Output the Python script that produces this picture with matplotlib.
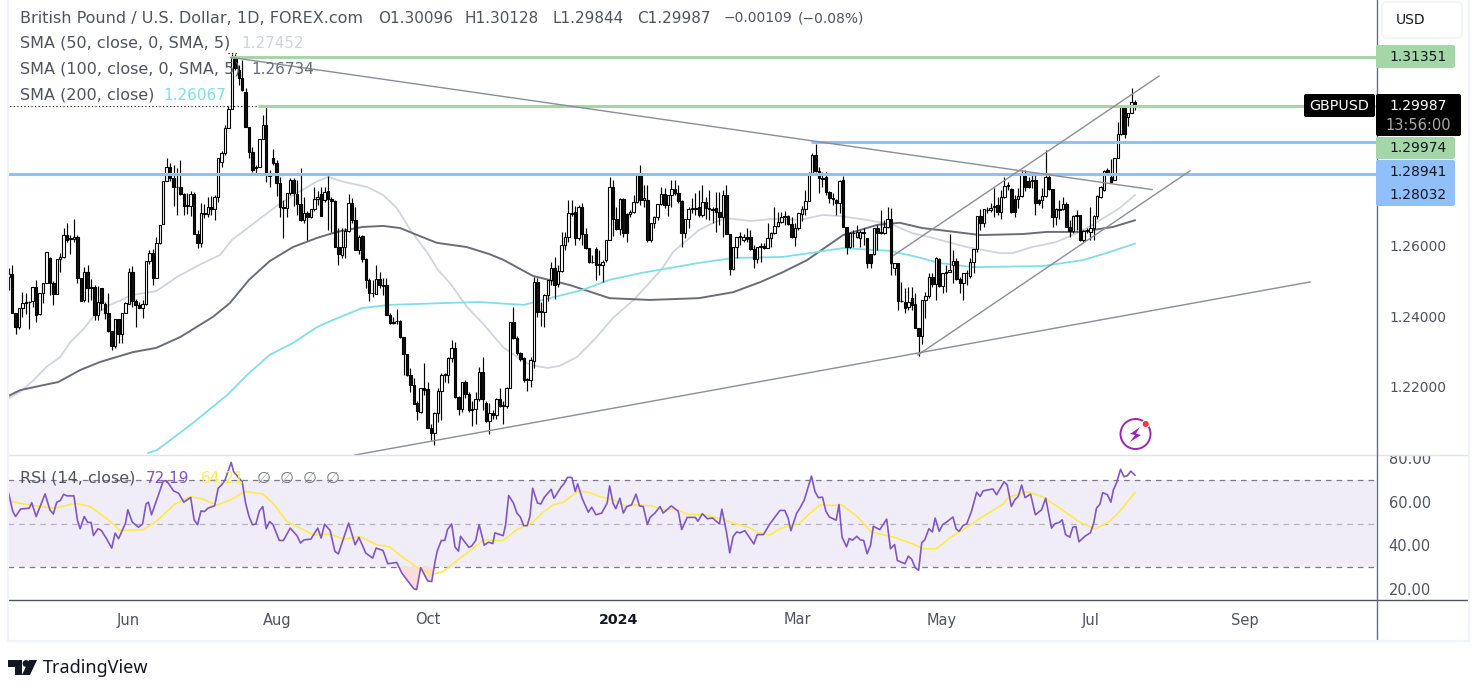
import numpy as np
import matplotlib
matplotlib.use("Agg")
import matplotlib.pyplot as plt
from matplotlib.patches import Circle, FancyBboxPatch, Polygon, Rectangle

plt.rcParams["font.family"] = ["DejaVu Sans"]

# daily candles
opens = [
    1.2513, 1.2521, 1.2411, 1.2371, 1.2423, 1.2437, 1.2440, 1.2444, 1.2483, 1.2407,
    1.2466, 1.2496, 1.2565, 1.2494, 1.2463, 1.2562, 1.2570, 1.2630, 1.2622, 1.2619,
    1.2625, 1.2508, 1.2447, 1.2527, 1.2482, 1.2485, 1.2404, 1.2480, 1.2435, 1.2411,
    1.2360, 1.2316, 1.2392, 1.2350, 1.2411, 1.2436, 1.2525, 1.2445, 1.2432, 1.2424,
    1.2436, 1.2558, 1.2579, 1.2508, 1.2609, 1.2662, 1.2783, 1.2823, 1.2792, 1.2768,
    1.2768, 1.2747, 1.2716, 1.2714, 1.2747, 1.2634, 1.2609, 1.2695, 1.2690, 1.2712,
    1.2704, 1.2740, 1.2839, 1.2864, 1.2935, 1.2989, 1.3135, 1.3099, 1.3077, 1.3037,
    1.2938, 1.2867, 1.2821, 1.2824, 1.2904, 1.2943, 1.2807, 1.2850, 1.2835, 1.2779,
    1.2711, 1.2709, 1.2749, 1.2787, 1.2747, 1.2719, 1.2674, 1.2693, 1.2683, 1.2704,
    1.2733, 1.2747, 1.2730, 1.2756, 1.2733, 1.2729, 1.2598, 1.2574, 1.2598, 1.2643,
    1.2721, 1.2674, 1.2589, 1.2628, 1.2562, 1.2503, 1.2468, 1.2463, 1.2505, 1.2489,
    1.2489, 1.2404, 1.2383, 1.2386, 1.2388, 1.2341, 1.2294, 1.2234, 1.2205, 1.2154,
    1.2129, 1.2197, 1.2194, 1.2084, 1.2069, 1.2126, 1.2189, 1.2234, 1.2234, 1.2282,
    1.2311, 1.2172, 1.2138, 1.2214, 1.2180, 1.2135, 1.2138, 1.2166, 1.2243, 1.2155,
    1.2104, 1.2125, 1.2120, 1.2166, 1.2146, 1.2146, 1.2197, 1.2384, 1.2339, 1.2296,
    1.2282, 1.2220, 1.2220, 1.2275, 1.2498, 1.2413, 1.2413, 1.2461, 1.2504, 1.2538,
    1.2492, 1.2529, 1.2603, 1.2626, 1.2693, 1.2697, 1.2622, 1.2712, 1.2634, 1.2593,
    1.2556, 1.2592, 1.2550, 1.2547, 1.2560, 1.2617, 1.2766, 1.2678, 1.2647, 1.2732,
    1.2690, 1.2690, 1.2697, 1.2726, 1.2801, 1.2730, 1.2730, 1.2617, 1.2664, 1.2681,
    1.2719, 1.2747, 1.2716, 1.2745, 1.2761, 1.2749, 1.2729, 1.2636, 1.2676, 1.2704,
    1.2707, 1.2710, 1.2687, 1.2724, 1.2707, 1.2704, 1.2707, 1.2697, 1.2683, 1.2745,
    1.2634, 1.2534, 1.2596, 1.2625, 1.2617, 1.2626, 1.2626, 1.2591, 1.2562, 1.2598,
    1.2601, 1.2594, 1.2622, 1.2636, 1.2657, 1.2669, 1.2683, 1.2685, 1.2661, 1.2625,
    1.2650, 1.2691, 1.2704, 1.2729, 1.2808, 1.2858, 1.2814, 1.2792, 1.2797, 1.2754,
    1.2735, 1.2730, 1.2721, 1.2787, 1.2655, 1.2598, 1.2636, 1.2626, 1.2622, 1.2641,
    1.2622, 1.2577, 1.2577, 1.2650, 1.2636, 1.2636, 1.2653, 1.2676, 1.2537, 1.2551,
    1.2445, 1.2442, 1.2427, 1.2452, 1.2436, 1.2366, 1.2346, 1.2447, 1.2459, 1.2513,
    1.2491, 1.2563, 1.2487, 1.2524, 1.2527, 1.2546, 1.2558, 1.2506, 1.2494, 1.2524,
    1.2515, 1.2555, 1.2591, 1.2685, 1.2666, 1.2702, 1.2701, 1.2710, 1.2716, 1.2697,
    1.2738, 1.2770, 1.2762, 1.2732, 1.2732, 1.2741, 1.2806, 1.2785, 1.2785, 1.2787,
    1.2730, 1.2730, 1.2741, 1.2797, 1.2761, 1.2683, 1.2704, 1.2704, 1.2718, 1.2655,
    1.2643, 1.2685, 1.2687, 1.2617, 1.2643, 1.2641, 1.2650, 1.2685, 1.2739, 1.2759,
    1.2815, 1.2796, 1.2787, 1.2850, 1.2918, 1.2994, 1.2966, 1.2977, 1.30096,
]
highs = [
    1.2537, 1.2546, 1.2411, 1.2423, 1.2470, 1.2466, 1.2443, 1.2483, 1.2504, 1.2466,
    1.2496, 1.2582, 1.2570, 1.2500, 1.2562, 1.2579, 1.2650, 1.2666, 1.2630, 1.2678,
    1.2630, 1.2510, 1.2541, 1.2546, 1.2505, 1.2490, 1.2487, 1.2480, 1.2442, 1.2466,
    1.2360, 1.2392, 1.2392, 1.2411, 1.2442, 1.2537, 1.2543, 1.2450, 1.2440, 1.2447,
    1.2558, 1.2589, 1.2592, 1.2625, 1.2660, 1.2783, 1.2849, 1.2836, 1.2830, 1.2820,
    1.2844, 1.2750, 1.2750, 1.2757, 1.2754, 1.2645, 1.2723, 1.2720, 1.2740, 1.2742,
    1.2745, 1.2849, 1.2870, 1.2943, 1.2997, 1.3145, 1.3145, 1.3113, 1.3128, 1.3048,
    1.2938, 1.2880, 1.2830, 1.2904, 1.2972, 1.2994, 1.2815, 1.2875, 1.2844, 1.2796,
    1.2730, 1.2749, 1.2792, 1.2792, 1.2787, 1.2820, 1.2740, 1.2700, 1.2704, 1.2768,
    1.2755, 1.2768, 1.2768, 1.2799, 1.2740, 1.2731, 1.2650, 1.2650, 1.2650, 1.2747,
    1.2735, 1.2711, 1.2631, 1.2630, 1.2565, 1.2510, 1.2503, 1.2546, 1.2527, 1.2508,
    1.2510, 1.2410, 1.2400, 1.2420, 1.2390, 1.2341, 1.2294, 1.2253, 1.2225, 1.2160,
    1.2197, 1.2268, 1.2215, 1.2095, 1.2130, 1.2197, 1.2240, 1.2240, 1.2285, 1.2333,
    1.2327, 1.2175, 1.2214, 1.2220, 1.2185, 1.2160, 1.2185, 1.2258, 1.2285, 1.2160,
    1.2155, 1.2135, 1.2170, 1.2197, 1.2160, 1.2200, 1.2385, 1.2427, 1.2345, 1.2300,
    1.2285, 1.2225, 1.2285, 1.2512, 1.2510, 1.2440, 1.2465, 1.2504, 1.2555, 1.2570,
    1.2545, 1.2640, 1.2640, 1.2730, 1.2730, 1.2713, 1.2716, 1.2721, 1.2650, 1.2593,
    1.2574, 1.2598, 1.2589, 1.2560, 1.2617, 1.2795, 1.2787, 1.2710, 1.2735, 1.2735,
    1.2693, 1.2702, 1.2745, 1.2806, 1.2830, 1.2773, 1.2773, 1.2664, 1.2685, 1.2719,
    1.2768, 1.2764, 1.2745, 1.2787, 1.2787, 1.2773, 1.2731, 1.2676, 1.2710, 1.2735,
    1.2749, 1.2759, 1.2773, 1.2740, 1.2759, 1.2712, 1.2754, 1.2754, 1.2759, 1.2773,
    1.2634, 1.2596, 1.2626, 1.2641, 1.2634, 1.2650, 1.2645, 1.2603, 1.2598, 1.2608,
    1.2608, 1.2664, 1.2641, 1.2712, 1.2697, 1.2697, 1.2699, 1.2688, 1.2683, 1.2664,
    1.2693, 1.2713, 1.2759, 1.2811, 1.2863, 1.2889, 1.2823, 1.2811, 1.2811, 1.2757,
    1.2749, 1.2733, 1.2787, 1.2799, 1.2655, 1.2641, 1.2645, 1.2660, 1.2645, 1.2650,
    1.2622, 1.2577, 1.2650, 1.2660, 1.2702, 1.2674, 1.2710, 1.2707, 1.2553, 1.2553,
    1.2499, 1.2480, 1.2485, 1.2483, 1.2466, 1.2366, 1.2447, 1.2470, 1.2522, 1.2524,
    1.2568, 1.2565, 1.2524, 1.2546, 1.2634, 1.2589, 1.2565, 1.2513, 1.2524, 1.2532,
    1.2565, 1.2591, 1.2685, 1.2704, 1.2704, 1.2712, 1.2721, 1.2764, 1.2740, 1.2759,
    1.2797, 1.2782, 1.2765, 1.2745, 1.2764, 1.2816, 1.2816, 1.2797, 1.2806, 1.2806,
    1.2733, 1.2764, 1.2871, 1.2801, 1.2761, 1.2707, 1.2730, 1.2740, 1.2726, 1.2674,
    1.2688, 1.2702, 1.2688, 1.2645, 1.2650, 1.2712, 1.2688, 1.2744, 1.2770, 1.2815,
    1.2820, 1.2847, 1.2850, 1.2952, 1.2995, 1.2994, 1.2977, 1.3048, 1.30128,
]
lows = [
    1.2475, 1.2411, 1.2350, 1.2365, 1.2400, 1.2408, 1.2365, 1.2428, 1.2385, 1.2404,
    1.2437, 1.2496, 1.2461, 1.2433, 1.2463, 1.2527, 1.2565, 1.2612, 1.2577, 1.2612,
    1.2496, 1.2445, 1.2442, 1.2442, 1.2447, 1.2390, 1.2390, 1.2418, 1.2392, 1.2357,
    1.2305, 1.2310, 1.2324, 1.2326, 1.2411, 1.2436, 1.2428, 1.2369, 1.2424, 1.2395,
    1.2433, 1.2550, 1.2489, 1.2508, 1.2605, 1.2662, 1.2783, 1.2783, 1.2713, 1.2688,
    1.2745, 1.2688, 1.2690, 1.2685, 1.2634, 1.2593, 1.2598, 1.2680, 1.2683, 1.2688,
    1.2674, 1.2725, 1.2825, 1.2858, 1.2935, 1.2989, 1.3100, 1.3056, 1.3040, 1.2938,
    1.2850, 1.2810, 1.2800, 1.2824, 1.2904, 1.2782, 1.2767, 1.2830, 1.2742, 1.2682,
    1.2622, 1.2682, 1.2745, 1.2713, 1.2688, 1.2672, 1.2666, 1.2617, 1.2680, 1.2700,
    1.2715, 1.2685, 1.2725, 1.2645, 1.2640, 1.2598, 1.2546, 1.2565, 1.2565, 1.2640,
    1.2665, 1.2589, 1.2577, 1.2556, 1.2480, 1.2445, 1.2456, 1.2463, 1.2480, 1.2461,
    1.2404, 1.2380, 1.2378, 1.2380, 1.2340, 1.2234, 1.2230, 1.2187, 1.2152, 1.2106,
    1.2125, 1.2177, 1.2084, 1.2050, 1.2035, 1.2100, 1.2105, 1.2215, 1.2210, 1.2270,
    1.2170, 1.2120, 1.2128, 1.2170, 1.2130, 1.2090, 1.2095, 1.2160, 1.2135, 1.2100,
    1.2067, 1.2108, 1.2110, 1.2143, 1.2095, 1.2140, 1.2197, 1.2335, 1.2290, 1.2275,
    1.2215, 1.2190, 1.2200, 1.2255, 1.2400, 1.2373, 1.2370, 1.2445, 1.2490, 1.2450,
    1.2485, 1.2525, 1.2590, 1.2610, 1.2685, 1.2603, 1.2617, 1.2603, 1.2591, 1.2551,
    1.2553, 1.2504, 1.2518, 1.2499, 1.2555, 1.2617, 1.2628, 1.2645, 1.2631, 1.2626,
    1.2612, 1.2681, 1.2693, 1.2721, 1.2716, 1.2712, 1.2612, 1.2612, 1.2650, 1.2674,
    1.2716, 1.2707, 1.2685, 1.2712, 1.2745, 1.2721, 1.2596, 1.2622, 1.2650, 1.2693,
    1.2688, 1.2681, 1.2683, 1.2678, 1.2674, 1.2664, 1.2641, 1.2660, 1.2626, 1.2634,
    1.2518, 1.2532, 1.2565, 1.2603, 1.2612, 1.2612, 1.2589, 1.2537, 1.2551, 1.2555,
    1.2591, 1.2594, 1.2598, 1.2634, 1.2655, 1.2666, 1.2660, 1.2660, 1.2622, 1.2600,
    1.2645, 1.2672, 1.2688, 1.2729, 1.2806, 1.2811, 1.2749, 1.2768, 1.2745, 1.2721,
    1.2716, 1.2688, 1.2693, 1.2655, 1.2576, 1.2593, 1.2596, 1.2622, 1.2598, 1.2603,
    1.2539, 1.2539, 1.2574, 1.2589, 1.2634, 1.2634, 1.2650, 1.2518, 1.2518, 1.2418,
    1.2440, 1.2409, 1.2418, 1.2418, 1.2366, 1.2289, 1.2323, 1.2395, 1.2452, 1.2485,
    1.2447, 1.2485, 1.2466, 1.2470, 1.2527, 1.2494, 1.2504, 1.2466, 1.2447, 1.2489,
    1.2508, 1.2522, 1.2584, 1.2645, 1.2655, 1.2693, 1.2697, 1.2683, 1.2688, 1.2678,
    1.2736, 1.2759, 1.2693, 1.2683, 1.2707, 1.2740, 1.2757, 1.2764, 1.2764, 1.2688,
    1.2716, 1.2707, 1.2740, 1.2759, 1.2655, 1.2660, 1.2678, 1.2702, 1.2653, 1.2625,
    1.2636, 1.2645, 1.2615, 1.2612, 1.2636, 1.2617, 1.2617, 1.2678, 1.2735, 1.2755,
    1.2808, 1.2780, 1.2787, 1.2850, 1.2915, 1.2906, 1.2940, 1.2977, 1.29844,
]
closes = [
    1.2521, 1.2411, 1.2371, 1.2423, 1.2437, 1.2440, 1.2442, 1.2483, 1.2404, 1.2466,
    1.2496, 1.2582, 1.2494, 1.2463, 1.2562, 1.2570, 1.2630, 1.2617, 1.2620, 1.2625,
    1.2508, 1.2445, 1.2527, 1.2482, 1.2485, 1.2404, 1.2442, 1.2437, 1.2411, 1.2360,
    1.2316, 1.2392, 1.2350, 1.2411, 1.2439, 1.2525, 1.2445, 1.2433, 1.2424, 1.2435,
    1.2558, 1.2579, 1.2508, 1.2609, 1.2660, 1.2783, 1.2823, 1.2792, 1.2766, 1.2766,
    1.2747, 1.2714, 1.2714, 1.2747, 1.2634, 1.2609, 1.2695, 1.2692, 1.2712, 1.2704,
    1.2740, 1.2849, 1.2863, 1.2935, 1.2989, 1.3135, 1.3105, 1.3077, 1.3043, 1.2938,
    1.2867, 1.2816, 1.2824, 1.2904, 1.2943, 1.2807, 1.2799, 1.2835, 1.2779, 1.2711,
    1.2709, 1.2749, 1.2787, 1.2749, 1.2719, 1.2674, 1.2693, 1.2683, 1.2704, 1.2733,
    1.2740, 1.2685, 1.2754, 1.2733, 1.2729, 1.2598, 1.2576, 1.2598, 1.2643, 1.2721,
    1.2674, 1.2589, 1.2626, 1.2562, 1.2503, 1.2468, 1.2466, 1.2505, 1.2489, 1.2487,
    1.2404, 1.2381, 1.2381, 1.2388, 1.2341, 1.2294, 1.2234, 1.2205, 1.2152, 1.2132,
    1.2197, 1.2192, 1.2084, 1.2069, 1.2126, 1.2189, 1.2234, 1.2236, 1.2282, 1.2311,
    1.2172, 1.2138, 1.2214, 1.2180, 1.2135, 1.2138, 1.2166, 1.2243, 1.2166, 1.2104,
    1.2125, 1.2120, 1.2166, 1.2146, 1.2148, 1.2197, 1.2384, 1.2339, 1.2296, 1.2279,
    1.2220, 1.2223, 1.2277, 1.2498, 1.2413, 1.2413, 1.2461, 1.2504, 1.2538, 1.2490,
    1.2529, 1.2603, 1.2626, 1.2694, 1.2691, 1.2622, 1.2712, 1.2634, 1.2593, 1.2556,
    1.2554, 1.2546, 1.2546, 1.2556, 1.2617, 1.2766, 1.2678, 1.2647, 1.2732, 1.2636,
    1.2636, 1.2697, 1.2724, 1.2801, 1.2730, 1.2735, 1.2617, 1.2664, 1.2681, 1.2719,
    1.2747, 1.2716, 1.2745, 1.2761, 1.2749, 1.2729, 1.2636, 1.2676, 1.2704, 1.2707,
    1.2705, 1.2687, 1.2724, 1.2707, 1.2704, 1.2702, 1.2697, 1.2683, 1.2745, 1.2634,
    1.2534, 1.2596, 1.2625, 1.2627, 1.2626, 1.2620, 1.2591, 1.2562, 1.2598, 1.2601,
    1.2594, 1.2622, 1.2636, 1.2657, 1.2669, 1.2683, 1.2685, 1.2661, 1.2625, 1.2650,
    1.2693, 1.2704, 1.2729, 1.2808, 1.2858, 1.2814, 1.2792, 1.2790, 1.2754, 1.2735,
    1.2733, 1.2721, 1.2785, 1.2655, 1.2598, 1.2636, 1.2638, 1.2641, 1.2641, 1.2636,
    1.2551, 1.2551, 1.2650, 1.2636, 1.2641, 1.2653, 1.2676, 1.2551, 1.2551, 1.2445,
    1.2444, 1.2423, 1.2442, 1.2433, 1.2366, 1.2346, 1.2447, 1.2459, 1.2513, 1.2491,
    1.2565, 1.2487, 1.2524, 1.2527, 1.2532, 1.2558, 1.2506, 1.2494, 1.2524, 1.2522,
    1.2555, 1.2591, 1.2685, 1.2666, 1.2704, 1.2701, 1.2707, 1.2713, 1.2697, 1.2738,
    1.2770, 1.2772, 1.2697, 1.2697, 1.2741, 1.2806, 1.2768, 1.2768, 1.2787, 1.2721,
    1.2721, 1.2741, 1.2797, 1.2761, 1.2683, 1.2704, 1.2702, 1.2718, 1.2655, 1.2643,
    1.2685, 1.2687, 1.2617, 1.2643, 1.2645, 1.2650, 1.2685, 1.2742, 1.2767, 1.2812,
    1.2810, 1.2782, 1.2850, 1.2918, 1.2994, 1.2918, 1.2977, 1.3009, 1.29987,
]

# moving averages, read at bends of each curve (bar number, price)
sma50_x = [0, 3.3, 7, 11, 15, 18, 22, 25, 29.5, 36, 43, 49, 56, 61.5, 65, 70, 78, 83, 90, 93,
           97.5, 104.5, 109, 113, 117, 122, 125, 128.5, 133.5, 138, 144, 148, 152, 157, 160.5,
           165.5, 171, 176, 182, 190, 193.5, 201, 205, 209, 216, 222.6, 230.5, 237, 242, 250,
           257.5, 263, 269, 279, 288.7, 292.5, 298, 305, 312, 318, 323.6, 328]
sma50_y = [1.2168, 1.2186, 1.2217, 1.2257, 1.2285, 1.2328, 1.2367, 1.2404, 1.2433, 1.2461,
           1.2472, 1.2512, 1.2549, 1.2574, 1.2617, 1.2654, 1.2713, 1.2745, 1.2784, 1.2796,
           1.2782, 1.2767, 1.2745, 1.2708, 1.2645, 1.2580, 1.2532, 1.2495, 1.2427, 1.2381,
           1.2313, 1.2285, 1.2262, 1.2254, 1.2260, 1.2285, 1.2339, 1.2396, 1.2447, 1.2532,
           1.2583, 1.2645, 1.2665, 1.2679, 1.2671, 1.2677, 1.2674, 1.2688, 1.2685, 1.2674,
           1.2660, 1.2637, 1.2623, 1.2597, 1.2580, 1.2580, 1.2597, 1.2611, 1.2640, 1.2674,
           1.2708, 1.2745]
sma100_x = [0, 3.3, 9, 14.4, 20.8, 26.6, 36.2, 43, 50, 59.5, 64.4, 70, 76, 82.8, 89.8, 95.6,
            103, 109, 114, 119, 124.7, 133.4, 140, 144, 152.7, 163.5, 175, 186.7, 201, 211,
            219, 225.5, 232.5, 243, 253, 259.5, 266, 273, 283, 295.4, 302.4, 312, 321.6, 328]
sma100_y = [1.2175, 1.2191, 1.2203, 1.2214, 1.2248, 1.2271, 1.2299, 1.2311, 1.2342, 1.2399,
            1.2438, 1.2504, 1.2557, 1.2597, 1.2623, 1.2640, 1.2654, 1.2657, 1.2651, 1.2631,
            1.2609, 1.2597, 1.2577, 1.2561, 1.2515, 1.2489, 1.2452, 1.2447, 1.2452, 1.2469,
            1.2498, 1.2526, 1.2560, 1.2631, 1.2660, 1.2666, 1.2651, 1.2643, 1.2631, 1.2634,
            1.2640, 1.2640, 1.2654, 1.2673]
sma200_x = [40.6, 43.2, 53.7, 63.6, 69.4, 76, 82.8, 89.8, 94.4, 103, 111, 126.5, 137, 150,
            155.6, 167, 175, 184, 201, 211, 225.5, 235.4, 243, 256.7, 264.5, 271, 280.8, 301,
            312.8, 319.8, 328]
sma200_y = [1.2013, 1.2021, 1.2098, 1.2177, 1.2234, 1.2291, 1.2325, 1.2370, 1.2390, 1.2424,
            1.2433, 1.2438, 1.2441, 1.2433, 1.2447, 1.2475, 1.2504, 1.2523, 1.2552, 1.2566,
            1.2569, 1.2583, 1.2594, 1.2586, 1.2569, 1.2552, 1.2540, 1.2543, 1.2560, 1.2580,
            1.2607]

# rsi turning points (bar number, value)
rsi_x = [0, 1.2, 2, 3.5, 6, 6.7, 8, 10.6, 12, 13, 14, 15, 16, 17, 19, 20, 20.8, 22, 23, 24,
         24.7, 26, 27, 28.5, 30, 31, 32, 34, 34.7, 36, 37.8, 39, 40, 40.7, 41.6, 43.6, 45, 46,
         48, 49.5, 51, 53, 54, 55, 56, 57, 58, 60, 61, 62, 63, 64.8, 65.5, 68, 69, 70, 71, 72,
         73, 74, 75, 76, 77, 78.8, 80, 82, 84, 85, 86, 88, 90, 91, 92, 93.6, 95, 96, 99, 100.9,
         102, 104, 106, 107, 109, 110.4, 113, 114.5, 116.5, 118, 118.8,
         120, 122, 123.2, 124.2, 124.8, 126, 127, 127.8, 129, 130, 131, 131.6, 134, 134.8, 136,
         137, 138.5, 139.7, 141, 141.6, 144, 144.7, 145.6, 147, 148, 149, 150, 151, 151.8,
         152.6, 154, 155, 156, 158, 158.8, 161, 161.7, 162.7, 164, 165, 165.7, 167, 168.8,
         169.8, 171, 172.7, 174.3, 175, 176, 176.8, 178, 179, 180, 181.4, 182.7, 183.7, 184.8,
         186, 186.8, 188.2, 189.7, 190.6, 193, 195, 196, 197.6, 200, 200.7, 202, 203.5, 205,
         207, 207.7, 209, 210, 211, 212, 213, 214.4, 217, 218, 219.8, 221.7,
         224.6, 226, 227, 227.8, 229.5, 230.4, 231.7, 233.8, 234.8, 235.8, 237, 238, 239, 241,
         241.8, 242.7, 244, 244.8, 245.7, 247, 248, 249, 250, 251, 251.8, 253.7, 255.7, 256.8,
         258, 258.8, 261, 262, 263, 264, 265, 265.9, 266.8, 268, 269, 269.8, 271, 272, 273,
         275, 275.9, 276.8, 278, 279, 280.4, 281.9, 282.9, 283.8, 286.6, 287.7, 289.9, 290.8,
         292, 293, 294, 295, 296, 297.6, 299, 300.8, 302, 303.7, 304.7, 306, 306.8, 307.8, 309,
         309.9, 310.8, 311.7, 313.4, 315, 316, 316.8, 317.8, 318.6, 320, 321, 321.7, 322.7,
         323.8, 324.8, 325.8, 326.8, 328]
rsi_y = [63.9, 55.5, 53.2, 56.7, 57, 59.6, 53.2, 63.6, 56.3, 54.4, 59.8, 60.5, 63.4, 62.7, 62.7,
         51.7, 47.6, 53.2, 50.5, 50.5, 44.5, 47.6, 46.8, 43, 38.7, 45.6, 43, 50.1, 56.3, 50.6,
         48.3, 49.8, 59, 59.8, 54, 63.1, 69.5, 69.7, 65, 63.9, 59.8, 62, 51.7, 49.4, 55.8, 55.5,
         57, 58.2, 66.2, 67.7, 70, 78.1, 73.8, 69.2, 59.3, 53.2, 49.4, 49.8, 55.8, 57.8, 47.6,
         50.9, 49.4, 42.2, 42.2, 47.9, 44.3, 41, 42.5, 42.8, 47.9, 43.3, 49.7, 46.8, 37.2, 36,
         50.2, 40.2, 43.6, 36.4, 34.1, 38.7, 37.6, 31.5, 32.1, 27.2, 23, 20, 19.6,
         29.7, 23.6, 23.3, 32.7, 37.3, 42.2, 42.2, 47.2, 49.8, 39.1, 37.3, 44.1, 39.1, 39.6,
         42.2, 49.5, 40, 41.4, 40.8, 45.7, 44.4, 49.2, 62.9, 59.4, 54.8, 53, 49, 49, 53.3, 66.2,
         59.4, 59, 62.1, 65.7, 61.6, 67, 68.2, 71.2, 71.2, 64.7, 68.2, 61.6, 55.2, 57.5, 54,
         54.8, 59.4, 67.3, 59.4, 56.8, 61.6, 54.8, 57.8, 58.6, 63.5, 58.1, 57.8, 49.5, 52.8,
         54.8, 57.8, 54.8, 58.1, 55.6, 47.2, 52.8, 52.8, 51, 54.5, 52.2, 52.5, 49.8, 56.6, 46.4,
         36.5, 44.1, 46.1, 45.7, 46.7, 40.6, 44.9, 44.9, 49.9,
         56, 56, 52.5, 46.7, 54.8, 57, 60.8, 71.8, 64.7, 61.9, 62.1, 55.6, 53, 51.5, 58.7, 43.7,
         39.3, 43.1, 42.3, 44.1, 42.5, 42.2, 36.1, 40, 48.7, 47.2, 52, 38.4, 40.3, 33, 31.5, 35,
         33.5, 29.7, 28.5, 41.1, 42.6, 47.6, 46.1, 52.5, 46.4, 49.5, 50.5, 53, 47.6, 46.4, 49.2,
         49.8, 55.6, 64.4, 62.4, 65, 65.9, 63.2, 69.2, 67.7, 57.8, 60.9, 62.4, 67.7, 61.9, 63.5,
         54, 56.3, 61.6, 47.9, 49.9, 50.5, 51.7, 44.9, 43.7, 48.3, 48.6, 41.6, 44.1, 45.7, 50.2,
         57.1, 58.9, 64.2, 63.2, 59.8, 65.4, 68.9, 74.9, 71.5, 72, 74.1, 72.19]
rsi_ma_x = [0, 3.3, 9, 13.5, 19.3, 23.7, 28.5, 32.4, 39.2, 43, 48, 52.8, 56.7, 60.6, 64.5, 68.8,
            74, 77, 81, 84.9, 88.7, 93.6, 97.5, 102.3, 107.2, 111, 115, 118.8, 123.2, 126.6,
            131.5, 135.3, 138.3, 143, 144, 148, 150, 152.3, 155.7, 158.6, 161.5, 166, 169.3,
            172.2, 176, 180, 182.9, 187.3, 190.6, 194.5, 197.4, 202.3, 207.6, 211, 216, 217.8,
            221.7, 224.6, 227.5, 230.4, 233.4, 236.3, 240.1, 242.6, 247, 251.3, 257.6, 262.5,
            266.4, 270.2, 274.1, 278, 283.8, 289.7, 291.1, 296.5, 301.3, 305.2, 312, 316.4,
            320.7, 323.6, 328]
rsi_ma_y = [60.5, 59.3, 57.8, 57, 59.3, 57.8, 52.4, 46.8, 47.1, 50.9, 58.5, 62.4, 61.1, 58.5,
            60.8, 64.7, 63.6, 59.3, 50.9, 47.9, 44.8, 45.1, 42.8, 44, 40.2, 39.2, 34.1, 30, 26.5,
            28, 34.1, 38.7, 42.5, 42.1, 42.2, 47.2, 48.7, 50.2, 55.2, 58.6, 59.7, 65.1, 64.2,
            62.4, 60.9, 57.8, 58.6, 58.1, 56.3, 56.6, 54.3, 54, 52.2, 50.2, 47.9, 46.1, 44.6,
            47.6, 49, 50.2, 54.8, 58.6, 58.3, 58.6, 53.3, 46, 43.8, 41.1, 38.4, 38.4, 43.4, 47.2,
            53.3, 59, 61.9, 64.7, 62.1, 58.1, 50.5, 47.6, 51, 55.6, 64.21]

# horizontal levels: price, first bar, colour
level_prices = [1.31351, 1.29974, 1.28941, 1.28032]
level_starts = [64.7, 72.6, 233.6, -3]
level_colors = ["#a5d6a7", "#a5d6a7", "#90bff9", "#90bff9"]

# trend lines: bar and price at both ends
trend_x = [(64.7, 333), (100.8, 379), (264.8, 344), (257.8, 335)]
trend_y = [(1.3135, 1.2760), (1.2007, 1.2498), (1.2291, 1.2813), (1.2574, 1.3082)]

price_ticks = [1.22, 1.24, 1.26]
rsi_ticks = [80, 60, 40, 20]
month_pos = [34.7, 78.1, 122.1, 177.7, 229.6, 271.8, 315, 360]
month_labels = ["Jun", "Aug", "Oct", "2024", "Mar", "May", "Jul", "Sep"]

W, H = 1484, 694
TEXT = "#50535e"
LEGEND_SIZE = 11.5


def px_axes(fig, left, top, right, bottom, **kw):
    return fig.add_axes([left / W, 1 - bottom / H, (right - left) / W, (bottom - top) / H], **kw)


fig = plt.figure(figsize=(W / 100, H / 100), dpi=100, facecolor="white")
ax = px_axes(fig, 8, 0, 1376, 455)
rsi_ax = px_axes(fig, 8, 455, 1376, 600, sharex=ax)

# price pane
idx = np.arange(len(closes))
o, h, l, c = map(np.array, (opens, highs, lows, closes))
ax.vlines(idx, l, h, color="black", lw=0.85, zorder=3)
up = c >= o
body_bottom = np.minimum(o, c)
body_height = np.maximum(np.abs(c - o), 0.00012)
ax.bar(idx[up], body_height[up], 0.72, body_bottom[up], facecolor="white", edgecolor="black", lw=0.8, zorder=4)
ax.bar(idx[~up], body_height[~up], 0.72, body_bottom[~up], facecolor="#111111", edgecolor="black", lw=0.8, zorder=4)

ax.plot(sma50_x, sma50_y, color="#d1d4dc", lw=1.3, zorder=2)
ax.plot(sma100_x, sma100_y, color="#6a6d78", lw=1.4, zorder=2)
ax.plot(sma200_x, sma200_y, color="#80deea", lw=1.3, zorder=2)

for price, start, col in zip(level_prices, level_starts, level_colors):
    ax.plot([start, 398.2], [price, price], color=col, lw=2.2, solid_capstyle="butt", zorder=5)
ax.plot([-3, 72.6], [level_prices[1]] * 2, color="black", lw=0.8, ls=(0, (1, 2.2)), zorder=5)
ax.plot([64, 66.5], [1.3147, 1.3147], color="black", lw=0.8, ls=(0, (1, 2.2)), zorder=5)
for xs, ys in zip(trend_x, trend_y):
    ax.plot(xs, ys, color="#8b8d97", lw=1.0, zorder=5)

ax.set_xlim(-0.2, 398.2)
ax.set_ylim(1.26 - 209 / 3525, 1.26 + 246 / 3525)
ax.yaxis.tick_right()
ax.set_yticks(price_ticks)
ax.set_yticklabels([f"{p:.5f}" for p in price_ticks], fontsize=10, color=TEXT)
ax.tick_params(axis="y", length=0, pad=10)
ax.tick_params(axis="x", length=0, labelbottom=False)
for s in ax.spines.values():
    s.set_visible(False)

# rsi pane
rsi_ax.axhspan(30, 70, color="#7e57c2", alpha=0.1, lw=0, zorder=1)
rsi_ax.axhline(70, color="#787b86", lw=0.9, ls=(0, (4.5, 4)), zorder=2)
rsi_ax.axhline(50, color="#b2b5be", lw=0.9, ls=(0, (4.5, 4)), zorder=2)
rsi_ax.axhline(30, color="#787b86", lw=0.9, ls=(0, (4.5, 4)), zorder=2)
rsi_ax.fill_between(rsi_x, rsi_y, 30, where=np.array(rsi_y) < 30, interpolate=True,
                    color="#fbdcdc", lw=0, zorder=2)
rsi_ax.plot(rsi_x, rsi_y, color="#7e57c2", lw=1.2, zorder=4)
rsi_ax.plot(rsi_ma_x, rsi_ma_y, color="#fdeb4d", lw=1.2, zorder=3)
rsi_ax.set_ylim(70 - 120 / 2.175, 70 + 25 / 2.175)
rsi_ax.yaxis.tick_right()
rsi_ax.set_yticks(rsi_ticks)
rsi_ax.set_yticklabels([f"{v:.2f}" for v in rsi_ticks], fontsize=10.5, color=TEXT)
rsi_ax.tick_params(axis="y", length=0, pad=9)
rsi_ax.set_xticks(month_pos)
rsi_ax.set_xticklabels(month_labels, fontsize=10.5, color=TEXT)
rsi_ax.tick_params(axis="x", length=0, pad=9)
year_label = rsi_ax.get_xticklabels()[3]
year_label.set_fontweight("bold")
year_label.set_fontsize(10.2)
year_label.set_color("#131722")
for s in rsi_ax.spines.values():
    s.set_visible(False)

# frame, tags and legends, placed in image pixels
ui = fig.add_axes([0, 0, 1, 1], facecolor="none")
ui.set_xlim(0, W)
ui.set_ylim(H, 0)
ui.axis("off")

ui.add_patch(Rectangle((1377, 440), 90, 15, fc="white", ec="none"))
ui.plot([8, 1468], [455, 455], color="#e0e3eb", lw=1)
ui.plot([8, 1468], [600, 600], color="#50535e", lw=1)
ui.plot([1376.5, 1376.5], [0, 640], color="#6a6d78", lw=1)
ui.plot([7.5, 7.5, 1468.5, 1468.5], [0, 640.5, 640.5, 0], color="#f0f3fa", lw=1.6)

ui.add_patch(FancyBboxPatch((1382, 2), 80, 36, boxstyle="round,pad=0,rounding_size=5", fc="white", ec="#eef0f5", lw=1))
ui.text(1411, 20, "USD", fontsize=10, color="#131722", ha="center", va="center")


def tag(x0, y0, x1, y1, col):
    ui.add_patch(FancyBboxPatch((x0, y0), x1 - x0, y1 - y0, boxstyle="round,pad=0,rounding_size=2", fc=col, ec="none", zorder=6))


tag(1376, 45, 1455, 68, "#a5d6a7")
tag(1376, 137, 1455, 159, "#a5d6a7")
tag(1376, 160, 1455, 206, "#90bff9")
tag(1376, 94, 1461, 136, "black")
tag(1304, 94, 1375, 117, "black")
for y, s in zip([57, 148, 172, 195], ["1.31351", "1.29974", "1.28941", "1.28032"]):
    ui.text(1418, y, s, fontsize=10, color="#131722", ha="center", va="center", zorder=7)
ui.text(1339, 106, "GBPUSD", fontsize=10.3, color="white", ha="center", va="center", zorder=7)
ui.text(1418, 106, "1.29987", fontsize=10, color="white", ha="center", va="center", zorder=7)
ui.text(1418, 125, "13:56:00", fontsize=10.5, color="#a9a9a9", ha="center", va="center", zorder=7)

ui.text(20, 18, "British Pound / U.S. Dollar, 1D, FOREX.com", fontsize=LEGEND_SIZE, color=TEXT, va="center")
for x, s, size in zip([378, 464, 552, 637, 724, 798],
                      ["O1.30096", "H1.30128", "L1.29844", "C1.29987", "\u22120.00109", "(\u22120.08%)"],
                      [11, 11, 11, 11, 10, 10]):
    ui.text(x, 18, s, fontsize=size, color=TEXT, va="center")
ui.text(20, 43, "SMA (50, close, 0, SMA, 5)", fontsize=LEGEND_SIZE, color=TEXT, va="center")
ui.text(241, 43, "1.27452", fontsize=11, color="#d1d4dc", va="center")
ui.text(20, 69, "SMA (100, close, 0, SMA, 5)", fontsize=LEGEND_SIZE, color=TEXT, va="center")
ui.text(251, 69, "1.26734", fontsize=11, color="#6a6d78", va="center")
ui.text(20, 95, "SMA (200, close)", fontsize=LEGEND_SIZE, color=TEXT, va="center")
ui.text(163, 95, "1.26067", fontsize=11, color="#80deea", va="center")
ui.text(20, 478, "RSI (14, close)", fontsize=LEGEND_SIZE, color=TEXT, va="center")
ui.text(146, 478, "72.19", fontsize=11, color="#7e57c2", va="center")
ui.text(201, 478, "64.21", fontsize=11, color="#fdeb4d", va="center")
for x in [257, 280, 303, 326]:
    ui.text(x, 478, "\u2205", fontsize=LEGEND_SIZE, color="#787b86", va="center")

# lightning badge
ui.add_patch(Circle((1135.5, 434), 15, fc="none", ec="#9c27b0", lw=1.4))
ui.add_patch(Circle((1145.7, 424), 3.6, fc="#f23645", ec="white", lw=0.8))
ui.add_patch(Polygon([(1140, 427), (1130, 434), (1135, 435), (1130, 442), (1141, 435), (1136, 433.5)], fc="#9c27b0", ec="none"))

# TradingView mark
ui.add_patch(Polygon([(8, 660), (22, 660), (22, 675), (15, 675), (15, 667), (8, 667)], fc="#131722", ec="none"))
ui.add_patch(Circle((26, 663.5), 3.4, fc="#131722", ec="none"))
ui.add_patch(Polygon([(29, 660), (37, 660), (30, 675), (22, 675)], fc="#131722", ec="none"))
ui.text(43, 668, "TradingView", family="Noto Sans", fontsize=13, color="#131722", va="center")

fig.savefig("out.png", dpi=100)
